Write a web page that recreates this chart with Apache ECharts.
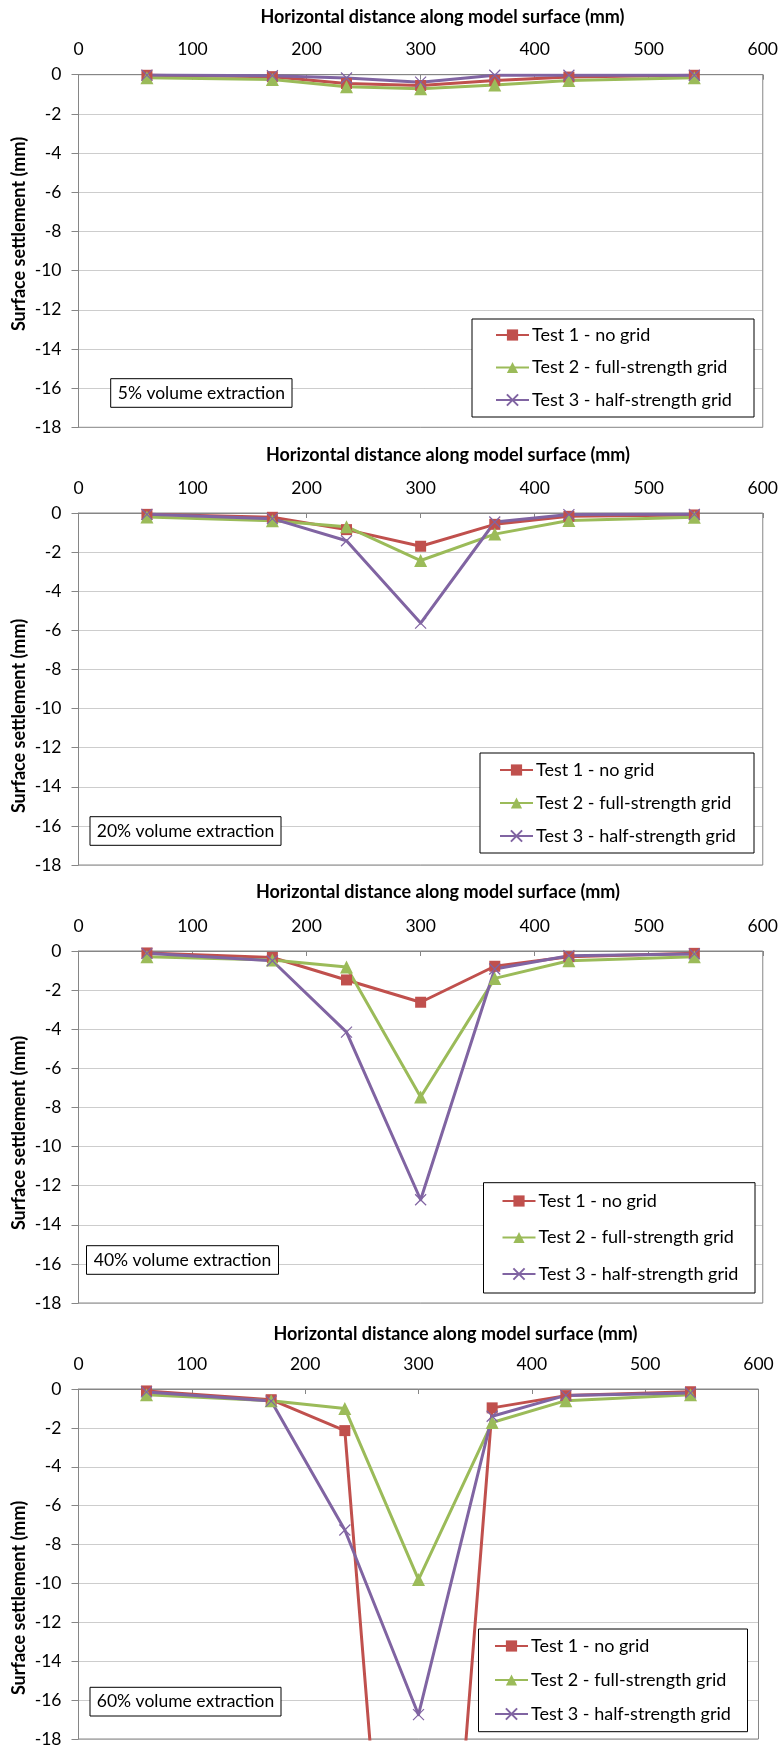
<!DOCTYPE html>
<html><head><meta charset="utf-8">
<script src="https://cdn.jsdelivr.net/npm/echarts@6/dist/echarts.min.js"></script>
<style>html,body{margin:0;padding:0;background:#fff}#c{width:781px;height:1748px}</style>
</head><body><div id="c"></div><script>
// ---------- DATA ----------
const xDistance = [60, 170, 235, 300, 365, 430, 540];
const xTickValues = [0, 100, 200, 300, 400, 500, 600];
const yTickValues = [0, -2, -4, -6, -8, -10, -12, -14, -16, -18];
const seriesNames = ['Test 1 - no grid', 'Test 2 - full-strength grid', 'Test 3 - half-strength grid'];
const panelLabels = ['5% volume extraction', '20% volume extraction', '40% volume extraction', '60% volume extraction'];
const xTitle = 'Horizontal distance along model surface (mm)';
const yTitle = 'Surface settlement (mm)';

const test1_5  = [-0.03, -0.10, -0.45, -0.55, -0.30, -0.12, -0.03];
const test2_5  = [-0.15, -0.25, -0.62, -0.72, -0.52, -0.30, -0.15];
const test3_5  = [-0.02, -0.05, -0.17, -0.38, -0.03, -0.03, -0.03];

const test1_20 = [-0.07, -0.22, -0.85, -1.70, -0.58, -0.17, -0.10];
const test2_20 = [-0.20, -0.40, -0.70, -2.43, -1.08, -0.38, -0.22];
const test3_20 = [-0.07, -0.29, -1.42, -5.63, -0.46, -0.08, -0.07];

const test1_40 = [-0.10, -0.33, -1.48, -2.62, -0.78, -0.29, -0.12];
const test2_40 = [-0.29, -0.46, -0.82, -7.47, -1.40, -0.50, -0.29];
const test3_40 = [-0.12, -0.50, -4.15, -12.72, -0.92, -0.24, -0.15];

const test1_60 = [-0.10, -0.55, -2.14, -49.0, -0.97, -0.34, -0.14];
const test2_60 = [-0.30, -0.60, -1.00, -9.80, -1.72, -0.60, -0.30];
const test3_60 = [-0.15, -0.62, -7.25, -16.75, -1.40, -0.33, -0.20];

const panelData = [
  [test1_5, test2_5, test3_5],
  [test1_20, test2_20, test3_20],
  [test1_40, test2_40, test3_40],
  [test1_60, test2_60, test3_60]
];

// ---------- LAYOUT / STYLE ----------
const FONT = 'Lato, "Open Sans", sans-serif';
const colors = ['#C0504D', '#9BBB59', '#8064A2'];
const symbols = ['rect', 'triangle', 'path://M0,0L10,10M10,0L0,10'];
const symbolSizes = [11, 13, 11];
const layout = [
  {top: 74.7, h: 352.6, right: 16, titleX: 442.5, titleY: 17, yNameY: 234,
   lg: {x: 472, y: 319, w: 282, h: 98, iconX: 495, first: 335, gap: 32.5},
   ann: {x: 110.7, y: 378.7, w: 181.3, h: 28.6}},
  {top: 513, h: 352, right: 16, titleX: 448, titleY: 455, yNameY: 716,
   lg: {x: 480, y: 753, w: 274, h: 100, iconX: 499, first: 770, gap: 33},
   ann: {x: 90, y: 816.7, w: 191, h: 28.6}},
  {top: 951, h: 352, right: 16, titleX: 438, titleY: 892.5, yNameY: 1133,
   lg: {x: 483.5, y: 1182.7, w: 271.5, h: 110.3, iconX: 501.5, first: 1201, gap: 36.5},
   ann: {x: 86.5, y: 1245.7, w: 192, h: 28.6}},
  {top: 1389, h: 351, right: 22.5, titleX: 455.5, titleY: 1334, yNameY: 1598,
   lg: {x: 478.5, y: 1629, w: 269, h: 102.7, iconX: 494, first: 1646, gap: 34},
   ann: {x: 90, y: 1687.3, w: 191, h: 28.7}}
];

const grids = [], xAxes = [], yAxes = [], series = [], legends = [], graphics = [];
layout.forEach((L, p) => {
  grids.push({left: 78.5, right: L.right, top: L.top, height: L.h, show: true,
    borderColor: '#868686', borderWidth: 1, containLabel: false});
  xAxes.push({type: 'value', gridIndex: p, position: 'top', min: xTickValues[0],
    max: xTickValues[xTickValues.length - 1], interval: 100,
    axisLine: {show: true, onZero: false, lineStyle: {color: '#868686', width: 1}},
    axisTick: {show: true, inside: true, length: 5, lineStyle: {color: '#868686'}},
    axisLabel: {fontFamily: FONT, fontSize: 17.5, color: '#000', margin: 16},
    splitLine: {show: false}});
  yAxes.push({type: 'value', gridIndex: p, min: yTickValues[yTickValues.length - 1],
    max: yTickValues[0], interval: 2,
    axisLine: {show: true, onZero: false, lineStyle: {color: '#868686', width: 1}},
    axisTick: {show: true, inside: false, length: 7, lineStyle: {color: '#868686'}},
    axisLabel: {fontFamily: FONT, fontSize: 17.5, color: '#000', margin: 17},
    splitLine: {show: true, lineStyle: {type: [1, 1], color: '#9a9a9a', width: 1}}});
  panelData[p].forEach((vals, s) => {
    series.push({
      name: seriesNames[s], type: 'line', xAxisIndex: p, yAxisIndex: p,
      data: xDistance.map((x, i) => [x, vals[i]]),
      symbol: symbols[s], symbolSize: symbolSizes[s], showAllSymbol: true,
      clip: true, animation: false,
      lineStyle: {color: colors[s], width: 3, join: 'round'},
      itemStyle: s === 2 ? {color: 'rgba(0,0,0,0)', borderColor: colors[s], borderWidth: 1.2}
                         : {color: colors[s], borderWidth: 0},
      emphasis: {disabled: true}
    });
  });
  legends.push({
    orient: 'vertical', left: L.lg.iconX, top: L.lg.first - 10, padding: 0,
    itemGap: L.lg.gap - 20, itemWidth: 33, itemHeight: 14, selectedMode: false,
    textStyle: {fontFamily: FONT, fontSize: 18, lineHeight: 20, color: '#000', padding: [0, 0, 0, -2]},
    data: seriesNames.slice()
  });
  graphics.push({type: 'rect', z: 3, shape: {x: L.lg.x, y: L.lg.y, width: L.lg.w, height: L.lg.h},
    style: {fill: '#fff', stroke: '#000', lineWidth: 1}});
  graphics.push({type: 'rect', z: 3, shape: {x: L.ann.x, y: L.ann.y, width: L.ann.w, height: L.ann.h},
    style: {fill: '#fff', stroke: '#000', lineWidth: 1}});
  graphics.push({type: 'text', z: 5, x: L.ann.x + L.ann.w / 2, y: L.ann.y + L.ann.h / 2,
    style: {text: panelLabels[p], font: '17.5px ' + FONT, fill: '#000',
      textAlign: 'center', textVerticalAlign: 'middle', align: 'center', verticalAlign: 'middle'}});
  graphics.push({type: 'text', z: 5, x: L.titleX, y: L.titleY,
    style: {text: xTitle, font: 'bold 18px ' + FONT, fill: '#000',
      textAlign: 'center', textVerticalAlign: 'middle', align: 'center', verticalAlign: 'middle'}});
  graphics.push({type: 'text', z: 5, x: 19, y: L.yNameY, rotation: Math.PI / 2,
    style: {text: yTitle, font: 'bold 18px ' + FONT, fill: '#000',
      textAlign: 'center', textVerticalAlign: 'middle', align: 'center', verticalAlign: 'middle'}});
});

const chart = echarts.init(document.getElementById('c'), null, {renderer: 'canvas'});
chart.setOption({
  backgroundColor: '#fff', animation: false,
  grid: grids, xAxis: xAxes, yAxis: yAxes, series: series, legend: legends,
  graphic: {elements: graphics}
});
</script></body></html>
